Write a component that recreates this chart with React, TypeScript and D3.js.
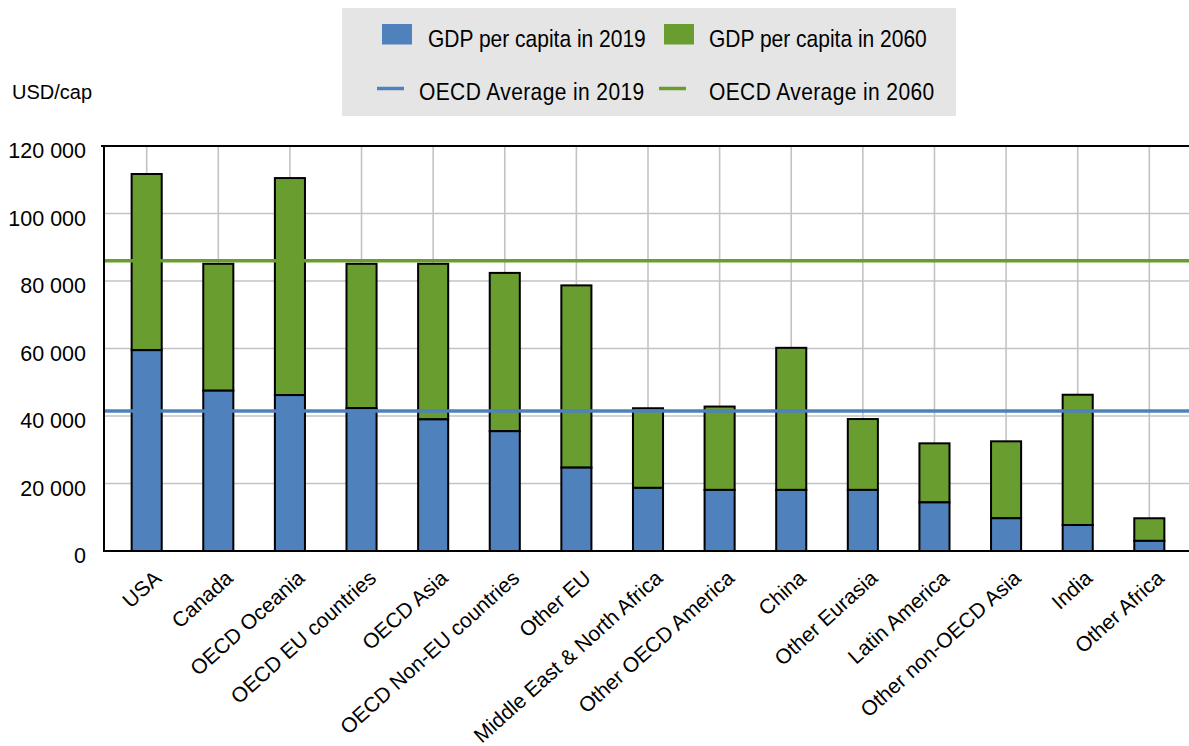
import React from "react";
import * as d3 from "d3";

const categories = [
  "USA",
  "Canada",
  "OECD Oceania",
  "OECD EU countries",
  "OECD Asia",
  "OECD Non-EU countries",
  "Other EU",
  "Middle East & North Africa",
  "Other OECD America",
  "China",
  "Other Eurasia",
  "Latin America",
  "Other non-OECD Asia",
  "India",
  "Other Africa",
];
const gdp2019 = [59500, 47500, 46200, 42300, 39000, 35500, 24700, 18700, 18100, 18100, 18100, 14400, 9700, 7700, 3000];
const gdp2060 = [111700, 85100, 110500, 85100, 85100, 82400, 78700, 42300, 42800, 60200, 39100, 31900, 32500, 46300, 9700];
const oecdAvg2019 = 41500;
const oecdAvg2060 = 86000;
const yTicks = [0, 20000, 40000, 60000, 80000, 100000, 120000];
const yUnit = "USD/cap";
const legendItems = [
  { label: "GDP per capita in 2019", kind: "rect", color: "#4F81BD" },
  { label: "GDP per capita in 2060", kind: "rect", color: "#6A9D30" },
  { label: "OECD Average in 2019", kind: "line", color: "#4F81BD" },
  { label: "OECD Average in 2060", kind: "line", color: "#6A9D30" },
];

const W = 1189;
const H = 746;
const BLUE = "#4F81BD";
const GREEN = "#6A9D30";
const GRID = "#c3c3c3";
const FONT = "'Liberation Sans', Arial, sans-serif";

const left = 104;
const top = 146;
const bottom = 551;

const x = d3
  .scaleBand<string>()
  .domain(categories)
  .range([left, 1192])
  .paddingInner(0.58)
  .paddingOuter(0.386);
const y = d3.scaleLinear().domain([0, 120000]).range([bottom, top]);

const fmtLocale = d3.formatLocale({ decimal: ".", thousands: " ", grouping: [3], currency: ["", ""] });
const fmt = fmtLocale.format(",");

export default function App() {
  const bw = x.bandwidth();
  const cx = (c: string) => (x(c) as number) + bw / 2;
  return (
    <svg
      width={W}
      height={H}
      style={{ position: "absolute", left: 0, top: 0, background: "#fff" }}
      fontFamily={FONT}
    >
      {/* legend */}
      <rect x={342} y={8} width={614} height={108} fill="#e5e5e5" />
      {legendItems.map((it, i) => {
        const col = i % 2;
        const row = Math.floor(i / 2);
        const sx = col === 0 ? 382 : 664;
        const tx = col === 0 ? (row === 0 ? 428 : 419) : 709;
        const base = row === 0 ? 46.5 : 100;
        return (
          <g key={it.label}>
            {it.kind === "rect" ? (
              <rect x={sx} y={24} width={30} height={20.5} fill={it.color} />
            ) : (
              <line x1={sx - 5} x2={sx + 22} y1={88.5} y2={88.5} stroke={it.color} strokeWidth={3.5} />
            )}
            <g transform={`translate(${tx},${base}) scale(0.875,1)`}>
              <text
                fontSize={24}
                fill="#000"
                letterSpacing={row === 1 ? 0.45 : 0}
              >
                {it.label}
              </text>
            </g>
          </g>
        );
      })}

      {/* unit label */}
      <text x={12} y={99} fontSize={20} fill="#000">
        {yUnit}
      </text>

      {/* gridlines */}
      {yTicks
        .filter((t) => t !== 0 && t !== 120000)
        .map((t) => (
          <line key={t} x1={left} x2={W} y1={y(t)} y2={y(t)} stroke={GRID} strokeWidth={1.6} />
        ))}
      {categories.map((c) => (
        <line key={c} x1={cx(c)} x2={cx(c)} y1={top} y2={bottom} stroke={GRID} strokeWidth={1.6} />
      ))}

      {/* bars */}
      {categories.map((c, i) => (
        <g key={c}>
          <rect
            x={x(c)}
            y={y(gdp2060[i])}
            width={bw}
            height={y(gdp2019[i]) - y(gdp2060[i])}
            fill={GREEN}
            stroke="#000"
            strokeWidth={2}
          />
          <rect
            x={x(c)}
            y={y(gdp2019[i])}
            width={bw}
            height={y(0) - y(gdp2019[i])}
            fill={BLUE}
            stroke="#000"
            strokeWidth={2}
          />
        </g>
      ))}

      {/* average lines */}
      <line x1={left} x2={W} y1={y(oecdAvg2060)} y2={y(oecdAvg2060)} stroke={GREEN} strokeWidth={3.5} />
      <line x1={left} x2={W} y1={y(oecdAvg2019)} y2={y(oecdAvg2019)} stroke={BLUE} strokeWidth={3.5} />

      {/* frame */}
      <line x1={left - 3} x2={W} y1={top} y2={top} stroke="#000" strokeWidth={2} />
      <line x1={left - 1} x2={W} y1={bottom} y2={bottom} stroke="#000" strokeWidth={2} />
      <line x1={left} x2={left} y1={top - 1} y2={bottom + 1} stroke="#000" strokeWidth={2} />

      {/* y tick labels */}
      {yTicks.map((t) => (
        <text key={t} x={86} y={y(t) + 12} fontSize={21.5} textAnchor="end" fill="#000">
          {fmt(t)}
        </text>
      ))}

      {/* x labels */}
      {categories.map((c) => (
        <text
          key={c}
          transform={`translate(${cx(c) + 16},${580}) rotate(-42)`}
          fontSize={21}
          textAnchor="end"
          fill="#000"
        >
          {c}
        </text>
      ))}
    </svg>
  );
}
